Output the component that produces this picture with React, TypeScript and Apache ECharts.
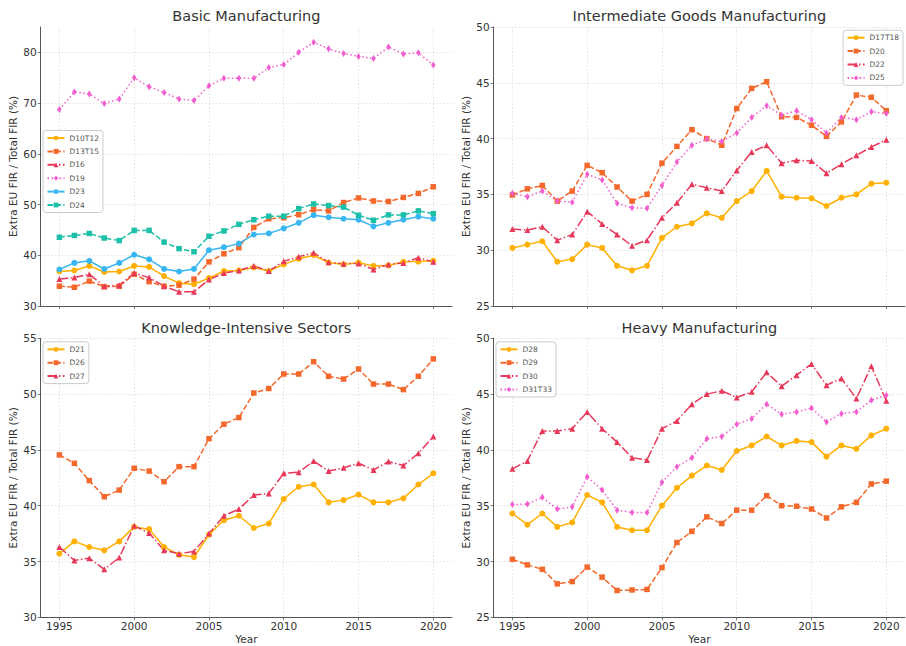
import React, { useEffect, useRef } from "react";
import * as echarts from "echarts";

const YEARS = [1995, 1996, 1997, 1998, 1999, 2000, 2001, 2002, 2003, 2004, 2005, 2006, 2007, 2008, 2009, 2010, 2011, 2012, 2013, 2014, 2015, 2016, 2017, 2018, 2019, 2020];
const X_TICKS = [1995, 2000, 2005, 2010, 2015, 2020];

const TITLES = ["Basic Manufacturing", "Intermediate Goods Manufacturing", "Knowledge-Intensive Sectors", "Heavy Manufacturing"];
const Y_TICKS_BASIC = [30, 40, 50, 60, 70, 80];
const Y_TICKS_INTER = [25, 30, 35, 40, 45, 50];
const Y_TICKS_KNOW = [30, 35, 40, 45, 50, 55];
const Y_TICKS_HEAVY = [25, 30, 35, 40, 45, 50];

// Basic Manufacturing
const D10T12 = [36.8, 37.0, 37.9, 36.7, 36.8, 37.9, 37.7, 35.9, 34.5, 34.3, 35.5, 36.9, 37.0, 37.6, 36.9, 38.2, 39.3, 40.0, 38.55, 38.2, 38.55, 37.9, 38.0, 38.7, 38.75, 38.9];
const D13T15 = [33.9, 33.7, 34.9, 33.8, 33.9, 36.25, 34.8, 33.9, 34.1, 35.3, 38.7, 40.3, 41.5, 45.5, 47.2, 47.4, 48.0, 49.0, 48.75, 50.4, 51.3, 50.7, 50.6, 51.4, 52.2, 53.5];
const D16 = [35.3, 35.6, 36.25, 33.9, 34.1, 36.5, 35.6, 33.9, 32.8, 32.8, 35.2, 36.5, 37.0, 37.9, 36.9, 38.8, 39.7, 40.5, 38.6, 38.35, 38.4, 37.2, 38.2, 38.5, 39.5, 38.7];
const D19 = [68.75, 72.2, 71.8, 69.9, 70.8, 75.0, 73.2, 72.1, 70.8, 70.5, 73.4, 74.9, 74.9, 74.9, 77.0, 77.6, 80.0, 82.0, 80.7, 79.8, 79.2, 78.8, 81.05, 79.7, 79.9, 77.5];
const D23 = [37.2, 38.5, 38.9, 37.3, 38.5, 40.1, 39.2, 37.3, 36.8, 37.3, 41.0, 41.6, 42.3, 44.1, 44.3, 45.3, 46.4, 47.9, 47.5, 47.2, 47.0, 45.7, 46.4, 47.0, 47.6, 47.2];
const D24 = [43.55, 43.9, 44.3, 43.4, 42.9, 44.9, 44.9, 42.6, 41.3, 40.7, 43.75, 44.8, 46.1, 47.0, 47.7, 47.7, 49.2, 50.1, 49.8, 49.5, 47.9, 46.9, 47.96, 47.96, 48.75, 48.2];

// Intermediate Goods Manufacturing
const D17T18 = [30.2, 30.5, 30.8, 28.97, 29.2, 30.5, 30.2, 28.6, 28.2, 28.6, 31.1, 32.1, 32.4, 33.3, 32.9, 34.4, 35.3, 37.1, 34.8, 34.7, 34.65, 33.96, 34.7, 35.0, 35.96, 36.05];
const D20 = [34.95, 35.5, 35.8, 34.4, 35.3, 37.6, 36.95, 35.66, 34.4, 35.0, 37.8, 39.3, 40.8, 40.0, 39.4, 42.7, 44.5, 45.1, 41.96, 41.9, 41.2, 40.2, 41.5, 43.9, 43.7, 42.5];
const D22 = [31.9, 31.8, 32.1, 30.9, 31.4, 33.45, 32.35, 31.4, 30.4, 30.9, 32.9, 34.25, 35.9, 35.6, 35.3, 37.15, 38.8, 39.4, 37.8, 38.05, 38.0, 36.9, 37.7, 38.5, 39.25, 39.9];
const D25 = [35.1, 34.8, 35.3, 34.4, 34.3, 36.8, 36.3, 34.2, 33.8, 33.75, 35.8, 37.9, 39.4, 39.96, 39.75, 40.5, 41.9, 42.95, 42.1, 42.5, 41.7, 40.5, 41.9, 41.7, 42.4, 42.25];

// Knowledge-Intensive Sectors
const D21 = [35.7, 36.8, 36.3, 36.0, 36.8, 38.1, 37.9, 36.3, 35.6, 35.4, 37.4, 38.7, 39.1, 38.0, 38.4, 40.6, 41.7, 41.9, 40.3, 40.5, 41.0, 40.3, 40.3, 40.66, 41.9, 42.9];
const D26 = [44.55, 43.8, 42.25, 40.8, 41.4, 43.35, 43.1, 42.15, 43.5, 43.5, 46.0, 47.3, 47.9, 50.1, 50.5, 51.8, 51.8, 52.9, 51.6, 51.35, 52.25, 50.9, 50.9, 50.4, 51.6, 53.15];
const D27 = [36.3, 35.1, 35.3, 34.3, 35.35, 38.2, 37.55, 36.0, 35.7, 35.9, 37.5, 39.1, 39.7, 40.96, 41.1, 42.9, 43.0, 44.0, 43.1, 43.4, 43.8, 43.2, 43.95, 43.6, 44.7, 46.2];

// Heavy Manufacturing
const D28 = [34.3, 33.3, 34.3, 33.1, 33.5, 35.96, 35.3, 33.1, 32.8, 32.8, 35.0, 36.6, 37.7, 38.6, 38.2, 39.9, 40.4, 41.2, 40.4, 40.8, 40.7, 39.4, 40.4, 40.1, 41.3, 41.9];
const D29 = [30.2, 29.7, 29.3, 28.0, 28.2, 29.5, 28.6, 27.4, 27.45, 27.5, 29.45, 31.7, 32.7, 34.0, 33.4, 34.6, 34.6, 35.9, 35.0, 34.95, 34.7, 33.9, 34.9, 35.3, 36.95, 37.2];
const D30 = [38.3, 39.0, 41.7, 41.7, 41.9, 43.4, 41.9, 40.7, 39.3, 39.1, 41.9, 42.6, 44.1, 45.0, 45.3, 44.7, 45.2, 46.95, 45.7, 46.7, 47.7, 45.8, 46.4, 44.6, 47.5, 44.4];
const D31T33 = [35.1, 35.15, 35.75, 34.7, 34.9, 37.6, 36.4, 34.6, 34.4, 34.4, 37.1, 38.5, 39.3, 41.0, 41.2, 42.3, 42.8, 44.1, 43.2, 43.4, 43.75, 42.5, 43.25, 43.4, 44.45, 44.9];

const YELLOW = "#FFB000";
const ORANGE = "#F4682B";
const RED = "#E8385A";
const PINK = "#F25ECF";
const BLUE = "#38B6F0";
const TEAL = "#1CBFA8";

const STYLES = [
  { type: "solid" as any, symbol: "circle", size: 6 },
  { type: [5.5, 2.4], symbol: "rect", size: 5.5 },
  { type: [9, 2.4, 1.5, 2.4], symbol: "triangle", size: 6 },
  { type: [1.5, 2.5], symbol: "diamond", size: [4.5, 7] as any },
];

const PANELS = [
  { title: TITLES[0], min: 30, max: 85, interval: 10, yticks: Y_TICKS_BASIC, names: ["D10T12", "D13T15", "D16", "D19", "D23", "D24"], data: [D10T12, D13T15, D16, D19, D23, D24], colors: [YELLOW, ORANGE, RED, PINK, BLUE, TEAL] },
  { title: TITLES[1], min: 25, max: 50, interval: 5, yticks: Y_TICKS_INTER, names: ["D17T18", "D20", "D22", "D25"], data: [D17T18, D20, D22, D25], colors: [YELLOW, ORANGE, RED, PINK] },
  { title: TITLES[2], min: 30, max: 55, interval: 5, yticks: Y_TICKS_KNOW, names: ["D21", "D26", "D27"], data: [D21, D26, D27], colors: [YELLOW, ORANGE, RED] },
  { title: TITLES[3], min: 25, max: 50, interval: 5, yticks: Y_TICKS_HEAVY, names: ["D28", "D29", "D30", "D31T33"], data: [D28, D29, D30, D31T33], colors: [YELLOW, ORANGE, RED, PINK] },
];

const FONT = "DejaVu Sans";

export default function App() {
  const ref = useRef<HTMLDivElement>(null);
  useEffect(() => {
    document.body.style.margin = "0";
    if (!ref.current) return;
    const chart = echarts.init(ref.current, null, { renderer: "svg" });

    const GRID_LEFT = [40.7, 493.7, 40.7, 493.7];
    const GRID_TOP = [27, 27, 338.3, 338.3];
    const GW = 411.3;
    const GH = 279;

    const grids = PANELS.map((_, i) => ({ left: GRID_LEFT[i], top: GRID_TOP[i], width: GW, height: GH, containLabel: false }));

    const gridLine = { show: true, lineStyle: { color: "#d9d9d9", type: [1.5, 2] as any, width: 0.8 } };
    const axisLine = { show: true, lineStyle: { color: "#555", width: 1 } };
    const tick = { show: true, length: 3, lineStyle: { color: "#555", width: 0.8 } };

    const xAxes = PANELS.map((_, i) => ({
      type: "value",
      gridIndex: i,
      min: 1993.75,
      max: 2021.25,
      axisLine,
      axisTick: { ...tick, customValues: X_TICKS },
      axisLabel: { show: i >= 2, customValues: X_TICKS, formatter: (v: number) => String(v), margin: 3, fontFamily: FONT, fontSize: 10.5, color: "#333" },
      splitLine: gridLine,
    }));

    const yAxes = PANELS.map((p, i) => ({
      type: "value",
      gridIndex: i,
      min: p.min,
      max: p.max,
      interval: p.interval,
      axisLine,
      axisTick: { ...tick, customValues: p.yticks },
      axisLabel: { customValues: p.yticks, formatter: (v: number) => String(v), margin: 4, fontFamily: FONT, fontSize: 10.5, color: "#333" },
      splitLine: gridLine,
    }));

    const series: any[] = [];
    PANELS.forEach((p, i) => {
      p.names.forEach((name, j) => {
        const st = STYLES[j % 4];
        series.push({
          type: "line",
          name,
          xAxisIndex: i,
          yAxisIndex: i,
          data: YEARS.map((y, k) => [y, p.data[j][k]]),
          symbol: st.symbol,
          symbolSize: st.size,
          showSymbol: true,
          color: p.colors[j],
          lineStyle: { width: 1.5, type: st.type, color: p.colors[j] },
          itemStyle: { color: p.colors[j] },
          emphasis: { disabled: true },
        });
      });
    });

    const LEG_POS: any[] = [
      { left: 43, top: 130.5 },
      { right: 3, top: 30.2 },
      { left: 43, top: 341.8 },
      { left: 496, top: 341.8 },
    ];
    const legends = PANELS.map((p, i) => ({
      ...LEG_POS[i],
      orient: "vertical",
      data: p.names,
      itemWidth: 17,
      itemHeight: 6,
      itemGap: 5.4,
      padding: [3.5, 4, 3.5, 3.5],
      borderColor: "#cccccc",
      borderWidth: 1,
      borderRadius: 3,
      backgroundColor: "rgba(255,255,255,0.8)",
      selectedMode: false,
      textStyle: { fontFamily: FONT, fontSize: 7.5, color: "#555", padding: [0, 0, 0, 0] },
    }));

    const TITLE_Y = [16, 16, 328.3, 328.3];
    const graphics: any[] = [];
    PANELS.forEach((p, i) => {
      const cx = GRID_LEFT[i] + GW / 2;
      graphics.push({
        type: "text",
        x: cx,
        y: TITLE_Y[i],
        style: { text: p.title, fontFamily: FONT, fontSize: 14.5, fill: "#333", align: "center", verticalAlign: "middle" },
      });
      graphics.push({
        type: "text",
        x: GRID_LEFT[i] - 27.5,
        y: GRID_TOP[i] + GH / 2,
        rotation: Math.PI / 2,
        style: { text: "Extra EU FIR / Total FIR (%)", fontFamily: FONT, fontSize: 10.5, fill: "#333", align: "center", verticalAlign: "middle" },
      });
      if (i >= 2) {
        graphics.push({
          type: "text",
          x: cx,
          y: 639,
          style: { text: "Year", fontFamily: FONT, fontSize: 10.5, fill: "#333", align: "center", verticalAlign: "middle" },
        });
      }
    });

    chart.setOption({
      animation: false,
      backgroundColor: "#fff",
      grid: grids,
      xAxis: xAxes,
      yAxis: yAxes,
      legend: legends,
      series,
      graphic: graphics,
    });
    return () => chart.dispose();
  }, []);
  return <div ref={ref} style={{ width: 906, height: 646 }} />;
}
